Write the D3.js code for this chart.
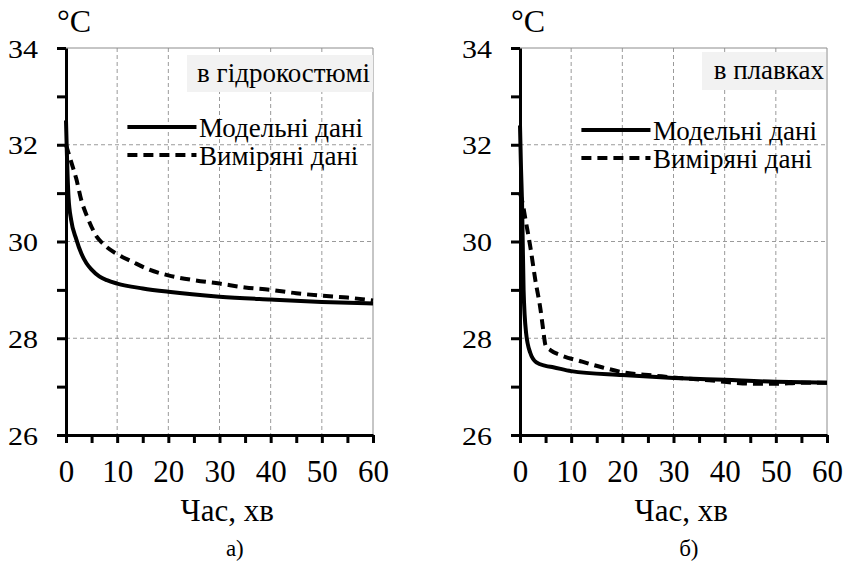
<!DOCTYPE html>
<html>
<head>
<meta charset="utf-8">
<script src="https://cdn.jsdelivr.net/npm/d3@7/dist/d3.min.js"></script>
<title>Температура</title>
<style>
body { margin: 0; background: #fff; }
svg text { font-family: "Liberation Serif", serif !important; }
</style>
</head>
<body>
<script>

// шкали
var tempTicks = [26, 27, 28, 29, 30, 31, 32, 33, 34];
var timeTicks = [0, 5, 10, 15, 20, 25, 30, 35, 40, 45, 50, 55, 60];
var legendNames = ["Модельні дані", "Виміряні дані"];
var panelTitles = ["в гідрокостюмі", "в плавках"];
var panelCaptions = ["а)", "б)"];

// а) в гідрокостюмі
var suitModelTime = [0, 0.15, 0.3, 0.5, 1, 2, 3, 4, 5, 6.5, 8, 10, 15, 20, 30, 40, 50, 60];
var suitModelTemp = [32.5, 31.9, 31.4, 30.9, 30.45, 30.05, 29.75, 29.55, 29.42, 29.28, 29.2, 29.13, 29.03, 28.96, 28.86, 28.8, 28.75, 28.72];
var suitMeasTime = [0, 1, 2, 3, 4, 5, 6, 7, 8, 10, 13, 16, 20, 25, 30, 35, 40, 45, 50, 55, 60];
var suitMeasTemp = [32.0, 31.65, 31.3, 30.85, 30.55, 30.3, 30.1, 29.98, 29.88, 29.74, 29.58, 29.43, 29.3, 29.2, 29.13, 29.05, 29.0, 28.93, 28.88, 28.84, 28.78];

// б) в плавках
var trunksModelTime = [0, 0.2, 0.4, 0.7, 1.2, 2, 3.2, 5, 6.5, 10, 20, 30, 40, 50, 60];
var trunksModelTemp = [32.4, 31.5, 30.8, 29.0, 28.1, 27.7, 27.5, 27.43, 27.4, 27.32, 27.24, 27.18, 27.14, 27.1, 27.08];
var trunksMeasTime = [0, 0.5, 1, 2, 3, 4, 4.5, 5, 6, 8, 12, 16, 21, 26, 31, 37, 42, 46, 50, 55, 60];
var trunksMeasTemp = [31.0, 30.8, 30.5, 29.9, 29.2, 28.6, 28.2, 27.85, 27.75, 27.65, 27.52, 27.4, 27.28, 27.23, 27.18, 27.13, 27.08, 27.06, 27.06, 27.08, 27.08];

var width = 846,
    height = 563,
    fontName = "Liberation Serif";

var svg = d3.select( "body" )
  .append( "svg" )
  .attr( "width", width )
  .attr( "height", height )
  .attr( "font-family", fontName );

function zip( ts, vs ) {
  return ts.map( function(t, i) { return [t, vs[i]]; } );
}

function setFont( sel, size ) {
  return sel
    .attr( "font-family", fontName )
    .attr( "font-size", size )
    .style( "font-family", "'Liberation Serif', serif", "important" )
    .style( "font-size", size + "px" )
    .attr( "fill", "#000" );
}

function label( sel, x, y, size, str ) {
  return setFont( sel.append( "text" ), size )
    .attr( "x", x ).attr( "y", y )
    .text( str );
}

var panels = [
  { left: 66, model: zip(suitModelTime, suitModelTemp), meas: zip(suitMeasTime, suitMeasTemp),
    box: [187, 55, 186, 37] },
  { left: 520, model: zip(trunksModelTime, trunksModelTemp), meas: zip(trunksMeasTime, trunksMeasTemp),
    box: [702, 52, 124, 38] }
];

panels.forEach( function(p, i) {
  var x = d3.scaleLinear().domain([0, 60]).range([p.left, p.left + 307]);
  var y = d3.scaleLinear().domain([26, 34]).range([435, 48]);
  var g = svg.append( "g" );

  // сітка
  g.selectAll( ".vgrid" )
    .data( [10, 20, 30, 40, 50] )
    .enter().append( "line" )
    .attr( "x1", function(d) { return x(d); } )
    .attr( "x2", function(d) { return x(d); } )
    .attr( "y1", y(34) ).attr( "y2", y(26) )
    .attr( "stroke", "#9a9a9a" ).attr( "stroke-width", 1 )
    .attr( "stroke-dasharray", "4,3" );
  g.selectAll( ".hgrid" )
    .data( [28, 30, 32] )
    .enter().append( "line" )
    .attr( "x1", x(0) ).attr( "x2", x(60) )
    .attr( "y1", function(d) { return y(d); } )
    .attr( "y2", function(d) { return y(d); } )
    .attr( "stroke", "#9a9a9a" ).attr( "stroke-width", 1 )
    .attr( "stroke-dasharray", "4,3" );
  // рамка зверху і справа
  g.append( "path" )
    .attr( "d", "M" + x(0) + "," + y(34) + "H" + x(60) + "V" + y(26) )
    .attr( "fill", "none" ).attr( "stroke", "#8c8c8c" ).attr( "stroke-width", 1 );

  // підпис панелі
  g.append( "rect" )
    .attr( "x", p.box[0] ).attr( "y", p.box[1] )
    .attr( "width", p.box[2] ).attr( "height", p.box[3] )
    .attr( "fill", "#f2f2f2" );
  label( g, x(60) - 3, p.box[1] + 27, 27, panelTitles[i] )
    .attr( "text-anchor", "end" );

  // лінії
  var line = d3.line()
    .curve( d3.curveMonotoneX )
    .x( function(d) { return x(d[0]); } )
    .y( function(d) { return y(d[1]); } );
  g.append( "path" ).datum( p.meas )
    .attr( "d", line ).attr( "fill", "none" )
    .attr( "stroke", "#000" ).attr( "stroke-width", 4 )
    .attr( "stroke-dasharray", "10,6" );
  g.append( "path" ).datum( p.model )
    .attr( "d", line ).attr( "fill", "none" )
    .attr( "stroke", "#000" ).attr( "stroke-width", 4 );

  // осі
  var yAxis = d3.axisLeft( y )
    .tickValues( tempTicks )
    .tickSize( 9 ).tickSizeOuter( 0 )
    .tickFormat( function(d) { return d % 2 === 0 ? d : ""; } );
  var ya = g.append( "g" )
    .attr( "transform", "translate(" + x(0) + ",0)" )
    .call( yAxis )
    .attr( "font-family", fontName );
  ya.select( ".domain" ).attr( "stroke-width", 3 );
  ya.selectAll( ".tick line" ).attr( "stroke-width", 3 );
  setFont( ya.selectAll( "text" ), 25 )
    .attr( "x", -28 / 1.2 )
    .attr( "dy", "0.36em" )
    .attr( "transform", "scale(1.2,1)" );

  var xAxis = d3.axisBottom( x )
    .tickValues( timeTicks )
    .tickSize( 8 ).tickSizeOuter( 0 )
    .tickFormat( function(d) { return d % 10 === 0 ? d : ""; } );
  var xa = g.append( "g" )
    .attr( "transform", "translate(0," + y(26) + ")" )
    .call( xAxis )
    .attr( "font-family", fontName );
  xa.select( ".domain" ).attr( "stroke-width", 3 );
  xa.selectAll( ".tick line" ).attr( "stroke-width", 3 );
  setFont( xa.selectAll( "text" ), 31 )
    .attr( "y", 0 ).attr( "dy", 47 );

  // одиниці
  label( g, x(0) - 9, 32, 32, "°C" );

  // легенда
  legendNames.forEach( function(name, k) {
    var ly = 127 + k * 28 + i * 3;
    g.append( "line" )
      .attr( "x1", x(12) ).attr( "x2", x(25.5) )
      .attr( "y1", ly ).attr( "y2", ly )
      .attr( "stroke", "#000" ).attr( "stroke-width", 4 )
      .attr( "stroke-dasharray", k === 0 ? null : "10,6" );
    label( g, x(26), ly + 10, 27, name );
  } );

  // підпис осі та панелі
  label( g, x(31.5), 521, 31, "Час, хв" ).attr( "text-anchor", "middle" );
  label( g, x(33), 556, 23, panelCaptions[i] ).attr( "text-anchor", "middle" );
} );

</script>
</body>
</html>
